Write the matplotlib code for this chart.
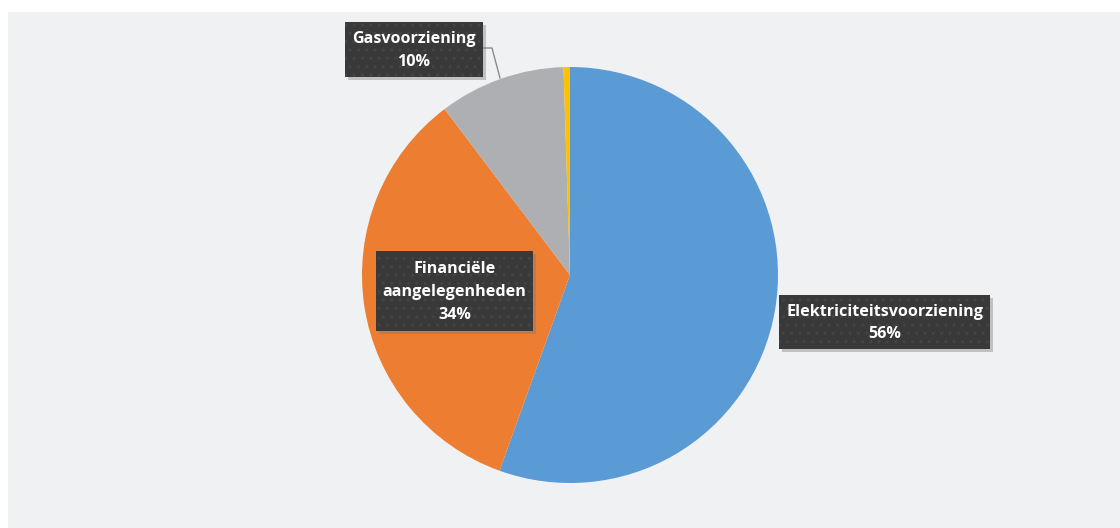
import matplotlib.pyplot as plt
from matplotlib.patches import Rectangle

# slices, clockwise from the top
labels = ["Elektriciteitsvoorziening", "Financiële\naangelegenheden", "Gasvoorziening", "Overig"]
values = [55.5, 34.2, 9.8, 0.5]
shown = ["56%", "34%", "10%", None]
colors = ["#5B9BD5", "#ED7D31", "#AEAFB2", "#FFC000"]

W, H = 1120, 528

fig = plt.figure(figsize=(W / 100, H / 100), dpi=100)
fig.patch.set_facecolor("white")
ax = fig.add_axes([0, 0, 1, 1])

# light gray chart area
ax.add_patch(Rectangle((8, 0), W - 8, H - 12, facecolor="#F0F1F3", edgecolor="none", zorder=0))

ax.pie(values, colors=colors, startangle=90, counterclock=False,
       center=(570, H - 275), radius=208, wedgeprops=dict(linewidth=0))

ax.set_xlim(0, W)
ax.set_ylim(0, H)
ax.set_aspect("auto")
ax.axis("off")


def label_box(x0, y0, x1, y1, text):
    # boxes given in pixel coords from the top left
    w, h = x1 - x0, y1 - y0
    ax.add_patch(Rectangle((x0 + 3, H - y1 - 3), w, h, facecolor="#7a7a7a",
                           alpha=0.4, edgecolor="none", zorder=4))
    ax.add_patch(Rectangle((x0, H - y1), w, h, facecolor="#393939",
                           edgecolor="#444444", hatch="..", linewidth=0, zorder=5))
    ax.text((x0 + x1) / 2, H - (y0 + y1) / 2 - 1, text, ha="center", va="center",
            color="white", fontsize=11.6, fontweight="bold", family="Open Sans",
            linespacing=1.55, zorder=6)


label_box(779, 295, 990, 349, labels[0] + "\n" + shown[0])
label_box(376, 251, 533, 331, labels[1] + "\n" + shown[1])
label_box(345, 22, 483, 77, labels[2] + "\n" + shown[2])

# leader line for the gas slice
ax.plot([483, 492, 500], [H - 48, H - 48, H - 78], color="#8C8C8C", linewidth=1, zorder=3)

fig.savefig("out.png", dpi=100)
